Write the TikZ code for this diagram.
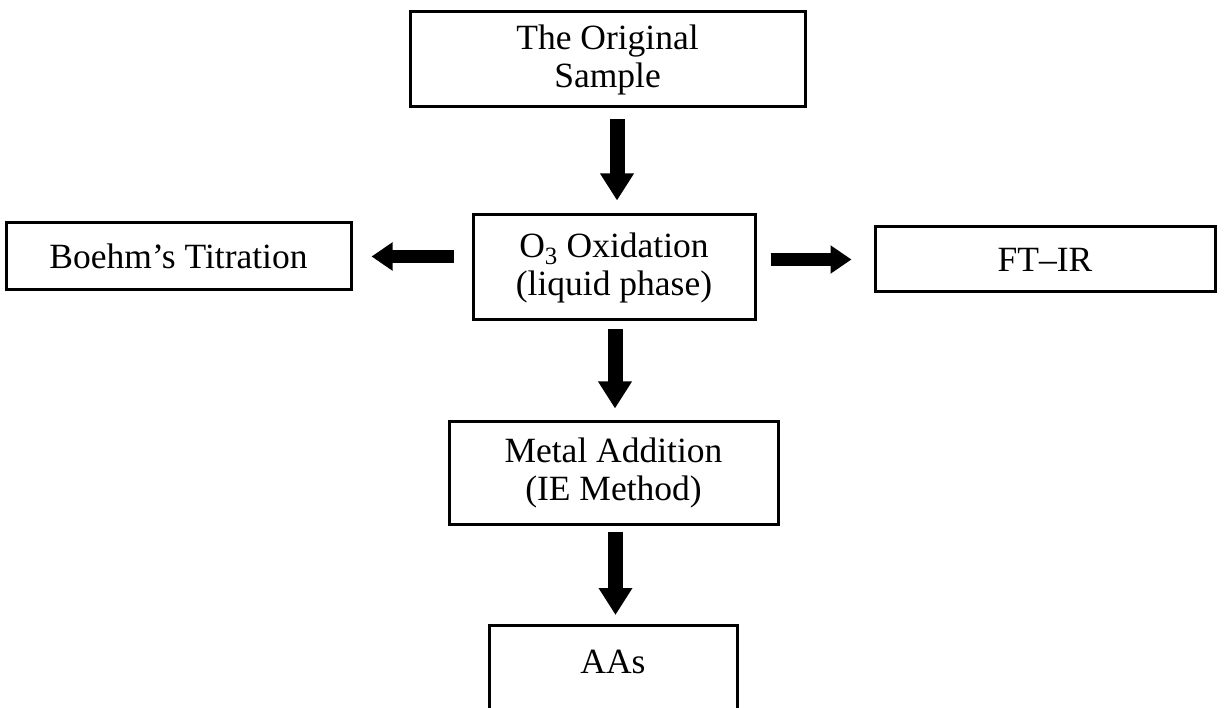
\documentclass[tikz,border=0pt]{standalone}
\usepackage{fontspec}
\setmainfont{Liberation Serif}
\usetikzlibrary{arrows.meta}
\tikzset{
  box/.style={draw=black, line width=3pt, rectangle, inner sep=0pt, align=center,
    font=\fontsize{35.5}{38}\selectfont},
  vflow/.style={line width=15pt, -{Triangle[width=32pt,length=27pt]}},
  hflow/.style={line width=13pt, -{Triangle[width=27pt,length=21pt]}}
}
\begin{document}
\begin{tikzpicture}[x=1pt,y=-1pt]
\useasboundingbox (0,0) rectangle (1224,708);
\clip (0,0) rectangle (1224,708);
\fill[white] (0,0) rectangle (1224,708);

\node[box, minimum width=395pt, minimum height=95pt] (top) at (607.5,59.5) {The Original\\Sample};
\node[box, minimum width=282pt, minimum height=105pt] (mid) at (614,267.5) {O\textsubscript{3} Oxidation\\(liquid phase)};
\node[box, minimum width=345pt, minimum height=67pt] (boehm) at (178.5,256.5) {Boehm’s Titration};
\node[box, minimum width=340pt, minimum height=65pt] (ftir) at (1045,259.5) {FT–IR};
\node[box, minimum width=329pt, minimum height=102pt] (metal) at (613.5,473) {Metal Addition\\(IE Method)};
\node[box, anchor=north, minimum width=248pt, minimum height=130pt,
  label={[anchor=center, yshift=-38pt, font=\fontsize{35.5}{38}\selectfont]north:AAs}] (aas) at (613,624) {};

\draw[vflow, shorten <=11pt, shorten >=13pt] ([xshift=3pt]mid.north |- top.south) -- ([xshift=3pt]mid.north);
\draw[vflow, shorten <=8pt, shorten >=12pt] ([xshift=1pt]mid.south) -- ([xshift=1pt]mid.south |- metal.north);
\draw[vflow, shorten <=6pt, shorten >=9pt] ([xshift=2pt]metal.south) -- ([xshift=2pt]metal.south |- aas.north);
\draw[hflow, shorten <=18pt, shorten >=19pt] (boehm.east -| mid.west) -- (boehm.east);
\draw[hflow, shorten <=14pt, shorten >=22pt] (ftir.west -| mid.east) -- (ftir.west);
\end{tikzpicture}
\end{document}
